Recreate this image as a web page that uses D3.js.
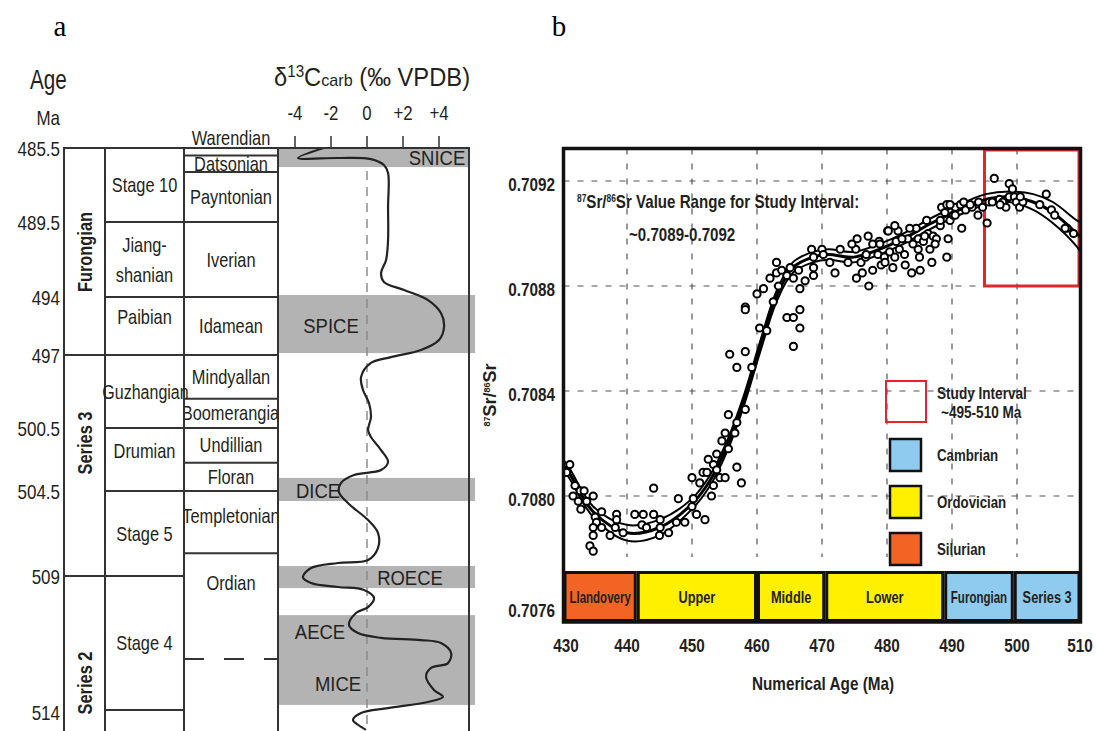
<!DOCTYPE html>
<html><head><meta charset="utf-8">
<script src="https://cdn.jsdelivr.net/npm/d3@7"></script>
<style>
body{margin:0;background:#fff;}
svg{display:block;}
text{font-family:'Liberation Sans',Arial,sans-serif;fill:#231f20;}
</style></head><body>
<svg id="c" width="1096" height="731"></svg>
<script>
// ---------------- Panel a data ----------------
const ageTicks = [485.5, 489.5, 494, 497, 500.5, 504.5, 509, 514];
const ageTickLabels = ["485.5", "489.5", "494", "497", "500.5", "504.5", "509", "514"];
const seriesNames = ["Furongian", "Series 3", "Series 2"];
const seriesStart = [485.5, 497, 509];
const seriesEnd = [497, 509, 515];
const stageNames = ["Stage 10", "Jiang-|shanian", "Paibian", "Guzhangian", "Drumian", "Stage 5", "Stage 4", ""];
const stageStart = [485.5, 489.5, 494, 497, 500.5, 504.5, 509, 514];
const stageEnd = [489.5, 494, 497, 500.5, 504.5, 509, 514, 515];
const ausNames = ["Warendian", "Datsonian", "Payntonian", "Iverian", "Idamean", "Mindyallan", "Boomerangian", "Undillian", "Floran", "Templetonian", "Ordian"];
const ausStart = [485.1, 485.9, 486.8, 489.5, 494, 497, 499.1, 500.5, 502.7, 504.5, 507.8];
const ausEnd = [485.9, 486.8, 489.5, 494, 497, 499.1, 500.5, 502.7, 504.5, 507.8, 515];
const ausDashedAge = [512.1];
const d13Ticks = [-4, -2, 0, 2, 4];
const d13TickLabels = ["-4", "-2", "0", "+2", "+4"];
const eventNames = ["SNICE", "SPICE", "DICE", "ROECE", "AECE", "MICE"];
const bandStart = [485.5, 493.88, 503.67, 508.47, 510.46];
const bandEnd = [486.53, 496.9, 505.03, 509.45, 513.81];
const d13Age = [485.5, 486.04, 486.04, 486.1, 486.42, 486.85, 488.69, 490.58, 491.78, 492.56, 493.1, 493.58, 494.16, 494.83, 495.55, 496.22, 496.74, 497.1, 497.38, 498.05, 498.68, 499.3, 499.97, 500.63, 501.07, 501.9, 502.66, 503.17, 503.48, 503.98, 504.55, 505.14, 506.04, 506.72, 507.52, 508.15, 508.31, 508.58, 509.04, 509.26, 509.41, 509.52, 509.82, 510.16, 510.38, 510.83, 511.13, 511.31, 511.39, 511.5, 511.87, 512.25, 512.43, 512.76, 513.25, 513.51, 513.7, 513.93, 514.11, 514.37, 514.55, 514.74];
const d13Val = [-2.4, -3.83, -1.6, 0.22, 0.94, 1.17, 1.17, 1.17, 1.06, 0.78, 0.94, 2.06, 3.39, 4.11, 4.28, 4.0, 3.0, 1.33, 0.22, -0.33, -0.22, 0.11, 0.22, 0.06, 0.22, 0.78, 1.17, 0.78, -0.72, -1.44, -1.56, -1.06, 0.06, 0.61, 0.61, 0.06, -1.61, -3.11, -3.56, -3.11, -1.61, -0.17, 0.39, 0.06, -0.61, -1.0, -0.5, 0.78, 3.0, 4.11, 4.67, 4.5, 3.56, 3.28, 3.72, 4.22, 3.39, 1.17, -0.33, -0.78, -0.5, -0.06];

// ---------------- Panel b data ----------------
const xTicksB = [430, 440, 450, 460, 470, 480, 490, 500, 510];
const yTicksB = [0.7076, 0.7080, 0.7084, 0.7088, 0.7092];
const periodNames = ["Llandovery", "Upper", "Middle", "Lower", "Furongian", "Series 3"];
const periodStart = [430, 441.5, 460, 470.5, 488.8, 499.5];
const periodEnd = [441.5, 460, 470.5, 488.8, 499.5, 510];
const periodSystem = ["Silurian", "Ordovician", "Ordovician", "Ordovician", "Cambrian", "Cambrian"];
const legendNames = ["Cambrian", "Ordovician", "Silurian"];
const studyInterval = [495, 510];
const studyRange = [0.7088, 0.7093];
const curveAges = [430, 430.8, 434.8, 440, 445, 450, 452.8, 455.4, 457.8, 460.5, 463, 465.5, 468.6, 471, 474.9, 481.7, 486.9, 492, 495.2, 498.8, 502.5, 505.5, 509.2, 510];
const curveMid = [0.70812, 0.70810, 0.70794, 0.70786, 0.70788, 0.70797, 0.70806, 0.70819, 0.70835, 0.70857, 0.70876, 0.70887, 0.70891, 0.70892, 0.70891, 0.70897, 0.70904, 0.70910, 0.70913, 0.70914, 0.70912, 0.70908, 0.70900, 0.70898];
const curveUpper = [0.70814, 0.70812, 0.70796, 0.70789, 0.70791, 0.70799, 0.70808, 0.70821, 0.70837, 0.70859, 0.70878, 0.70889, 0.70893, 0.70894, 0.70893, 0.70899, 0.70906, 0.70912, 0.70915, 0.70916, 0.70915, 0.70912, 0.70905, 0.70904];
const curveLower = [0.70810, 0.70808, 0.70792, 0.70783, 0.70785, 0.70795, 0.70804, 0.70817, 0.70833, 0.70855, 0.70874, 0.70885, 0.70889, 0.70890, 0.70889, 0.70895, 0.70902, 0.70908, 0.70911, 0.70912, 0.70909, 0.70904, 0.70895, 0.70892];
const srPoints = [
 [431.2,0.70812],[430.7,0.70809],[432.0,0.70804],[432.8,0.70802],[433.4,0.70802],[431.7,0.70800],[432.5,0.70798],[432.9,0.70795],
 [434.8,0.70800],[433.8,0.70798],[435.1,0.70792],[436.1,0.70794],[435.3,0.70790],[434.8,0.70788],[436.1,0.70788],[437.4,0.70785],
 [438.4,0.70793],[438.4,0.70791],[438.2,0.70788],[434.8,0.70785],[434.3,0.70781],[434.8,0.70779],[439.4,0.70786],[441.2,0.70793],
 [442.5,0.70793],[442.3,0.70789],[443.0,0.70788],[444.1,0.70793],[444.1,0.70803],[445.1,0.70791],[445.1,0.70788],[445.0,0.70785],
 [446.4,0.70786],[447.9,0.70799],[447.6,0.70790],[448.9,0.70790],[450.0,0.70807],[450.2,0.70799],[450.0,0.70796],[450.7,0.70793],
 [451.7,0.70809],[451.2,0.70805],[452.3,0.70809],[453.0,0.70800],[453.3,0.70804],[452.0,0.70791],[452.5,0.70814],[453.8,0.70816],
 [453.3,0.70812],[453.8,0.70810],[454.3,0.70807],[455.1,0.70807],[454.6,0.70821],[455.1,0.70824],[455.6,0.70818],[455.6,0.70831],
 [456.6,0.70824],[456.9,0.70828],[456.9,0.70811],[457.6,0.70805],[458.2,0.70833],[459.2,0.70849],[456.9,0.70849],[455.8,0.70854],
 [458.2,0.70855],[460.4,0.70864],[461.5,0.70863],[458.2,0.70872],[458.2,0.70871],[460.0,0.70877],[461.0,0.70879],[462.5,0.70874],
 [463.3,0.70880],[462.0,0.70883],[463.0,0.70885],[463.8,0.70886],[464.6,0.70884],[465.1,0.70887],[465.6,0.70883],[466.6,0.70879],
 [466.4,0.70886],[467.4,0.70882],[468.7,0.70884],[468.7,0.70887],[464.6,0.70868],[465.6,0.70868],[466.6,0.70871],[466.6,0.70864],
 [465.6,0.70857],[463.0,0.70889],[468.4,0.70894],[468.7,0.70891],[470.0,0.70894],[470.2,0.70892],[472.0,0.70885],
 [475.2,0.70894],[475.3,0.70883],[476.0,0.70889],[476.7,0.70891],[477.1,0.70899],[477.2,0.70880],[477.8,0.70896],[478.8,0.70897],
 [478.6,0.70892],[479.1,0.70888],[480.1,0.70901],[480.4,0.70893],[479.6,0.70891],[480.9,0.70887],[481.4,0.70897],[481.7,0.70901],
 [481.9,0.70894],[482.7,0.70892],[483.2,0.70898],[483.8,0.70885],[484.0,0.70896],[484.5,0.70902],[484.8,0.70898],[485.0,0.70891],
 [485.6,0.70897],[486.1,0.70905],[486.3,0.70900],[486.6,0.70894],[487.1,0.70899],[487.6,0.70898],[488.2,0.70903],[488.4,0.70910],
 [488.9,0.70908],[489.2,0.70911],[489.2,0.70891],[489.7,0.70905],[490.2,0.70907],[490.5,0.70910],[491.3,0.70911],[491.8,0.70912],
 [492.1,0.70909],[493.1,0.70910],[494.1,0.70912],[494.7,0.70910],
 [472.8,0.70894],[474.0,0.70889],[475.4,0.70898],[476.8,0.70892],[477.8,0.70886],[478.9,0.70896],[480.2,0.70901],[481.2,0.70891],
 [482.3,0.70898],[483.5,0.70902],[484.8,0.70894],[485.8,0.70899],[486.9,0.70889],[488.2,0.70905],[489.4,0.70898],[490.5,0.70907],
 [491.5,0.70902],[492.8,0.70911],[494.0,0.70907],[489.7,0.70911],[487.4,0.70896],[485.1,0.70886],[482.8,0.70888],[479.7,0.70889],
 [476.2,0.70885],[474.6,0.70896],[471.2,0.70889],[481.2,0.70903],
 [495.4,0.70904],[495.7,0.70912],[496.5,0.70921],[496.2,0.70912],[497.3,0.70913],[497.8,0.70912],[498.3,0.70910],[498.8,0.70919],
 [498.8,0.70914],[499.3,0.70917],[499.6,0.70914],[499.9,0.70912],[500.4,0.70910],[500.9,0.70912],[504.5,0.70915],[505.3,0.70909],
 [507.7,0.70902],[508.7,0.70900],[503.5,0.70911],[505.8,0.70907],[507.4,0.70902],[500.5,0.70914],[497.4,0.70911]
];

// ---------------- helpers ----------------
const svg = d3.select("#c");
const lineCol = "#333";
function T(g, x, y, s, o) {
  o = o || {};
  const sx = o.sx == null ? 0.85 : o.sx;
  const t = g.append("text")
    .attr("transform", `translate(${x},${y})${o.rot ? ` rotate(${o.rot})` : ""} scale(${sx},1)`)
    .attr("text-anchor", o.anchor || "start")
    .style("font-size", (o.size || 18) + "px")
    .style("font-weight", o.bold ? "bold" : "normal");
  if (s !== null) t.text(s);
  return t;
}

// panel letters
T(svg, 60, 36, "a", {anchor: "middle", size: 29, sx: 1}).style("font-family", "'Liberation Serif','Times New Roman',serif").style("fill", "#000");
T(svg, 559, 36, "b", {anchor: "middle", size: 29, sx: 1}).style("font-family", "'Liberation Serif','Times New Roman',serif").style("fill", "#000");

// ===== Panel a =====
const yA = d3.scaleLinear().domain(ageTicks).range([148, 222, 297, 355, 428, 491, 576, 710]);
const c0 = 64, c1 = 105, c2 = 184, c3 = 278, c4 = 469, aBottom = 731;
const xD = d3.scaleLinear().domain([-4, 4]).range([295, 439]);
const gA = svg.append("g");

gA.selectAll("rect.band").data(bandStart).join("rect")
  .attr("x", c3).attr("y", d => yA(d))
  .attr("width", (d, i) => (i === 0 ? c4 : 475) - c3)
  .attr("height", (d, i) => yA(bandEnd[i]) - yA(d))
  .attr("fill", "#b3b3b3");

gA.append("line").attr("x1", xD(0)).attr("x2", xD(0)).attr("y1", 171).attr("y2", aBottom)
  .attr("stroke", "#8c8c8c").attr("stroke-width", 1.5).attr("stroke-dasharray", "9,7");

const d13Line = d3.line().x(d => xD(d[1])).y(d => yA(d[0])).curve(d3.curveCatmullRom.alpha(0.5));
gA.append("path").datum(d13Age.map((a, i) => [a, d13Val[i]]))
  .attr("d", d13Line).attr("fill", "none").attr("stroke", "#222").attr("stroke-width", 2.2);

const evPos = [[437, 165], [331, 333], [318, 498], [410, 585], [320, 639], [338, 691]];
eventNames.forEach((n, i) => T(gA, evPos[i][0], evPos[i][1], n, {anchor: "middle", size: 21, sx: 0.88}));

function hl(x1, x2, y, dash) {
  gA.append("line").attr("x1", x1).attr("x2", x2).attr("y1", y).attr("y2", y)
    .attr("stroke", lineCol).attr("stroke-width", 2).attr("stroke-dasharray", dash || null);
}
function vl(x, y1, y2) {
  gA.append("line").attr("x1", x).attr("x2", x).attr("y1", y1).attr("y2", y2)
    .attr("stroke", lineCol).attr("stroke-width", 2);
}
hl(c0 - 1, c4 + 1, yA(485.5));
[c0, c1, c2, c3, c4].forEach(x => vl(x, yA(485.5), aBottom));
seriesStart.slice(1).forEach(a => hl(c0, c2, yA(a)));
stageStart.slice(1).forEach(a => hl(c1, c2, yA(a)));
ausStart.slice(1).forEach(a => hl(c2, c3, yA(a)));
ausDashedAge.forEach(a => hl(c2, c3, yA(a), "20,20"));

svg.append("clipPath").attr("id", "ausclip").append("rect").attr("x", c2 + 1).attr("y", 120).attr("width", c3 - c2 - 2).attr("height", 620);

const serCenters = [252, 443, 683];
seriesNames.forEach((n, i) => T(gA, (c0 + c1) / 2 + 7, serCenters[i], n, {anchor: "middle", size: 20, bold: true, rot: -90, sx: 0.82}));

stageNames.forEach((n, i) => {
  if (!n) return;
  const parts = n.split("|");
  let cy = (yA(stageStart[i]) + yA(stageEnd[i])) / 2;
  if (n === "Paibian" || n === "Drumian") cy -= 9;
  parts.forEach((p, k) => {
    T(gA, (c1 + c2) / 2 + (n === "Guzhangian" ? 1 : 0), cy + 7 + (k - (parts.length - 1) / 2) * 30, p,
      {anchor: "middle", size: 20, sx: n === "Guzhangian" ? 0.8 : 0.82});
  });
});
const gAus = gA.append("g").attr("clip-path", "url(#ausclip)");
ausNames.forEach((n, i) => {
  let cy = (yA(ausStart[i]) + yA(Math.min(ausEnd[i], 514.5))) / 2;
  if (n === "Warendian") cy = yA(485.5) - 10;
  if (n === "Ordian") cy = yA(ausStart[i]) + 30;
  if (n === "Templetonian") cy -= 6;
  T(n === "Warendian" ? gA : gAus, (c2 + c3) / 2 + (n === "Boomerangian" ? 4 : 0), cy + 7, n,
    {anchor: "middle", size: 20, sx: 0.82});
});

T(gA, 30, 89, "Age", {size: 28, sx: 0.74});
T(gA, 60, 125, "Ma", {anchor: "end", size: 20, sx: 0.85});
ageTicks.forEach((a, i) => T(gA, 60, yA(a) + 8 + (i === ageTicks.length - 1 ? 2 : 0), ageTickLabels[i], {anchor: "end", size: 20, sx: 0.85}));

d13Ticks.forEach((v, i) => {
  gA.append("line").attr("x1", xD(v)).attr("x2", xD(v)).attr("y1", 136).attr("y2", 148)
    .attr("stroke", lineCol).attr("stroke-width", 1.5);
  T(gA, xD(v), 120, d13TickLabels[i], {anchor: "middle", size: 21, sx: 0.8});
});
const ttl = T(gA, 372, 86, null, {anchor: "middle", size: 25, sx: 0.95});
ttl.append("tspan").text("δ");
ttl.append("tspan").attr("dy", -9).style("font-size", "16px").text("13");
ttl.append("tspan").attr("dy", 9).text("C");
ttl.append("tspan").style("font-size", "17px").text("carb");
ttl.append("tspan").text(" (‰ VPDB)");

// ===== Panel b =====
const xB = d3.scaleLinear().domain([430, 510]).range([562, 1082]);
const yB = d3.scaleLinear().domain([0.7080, 0.7092]).range([496, 181]);
const fL = 563.5, fR = 1080.5, fT = 148.5, fB = 622, barT = 571;
const gB = svg.append("g");
gB.append("rect").attr("x", fL).attr("y", fT).attr("width", fR - fL).attr("height", fB - fT).attr("fill", "#fff");

gB.selectAll("line.vg").data(xTicksB.slice(1, -1)).join("line")
  .attr("x1", d => xB(d)).attr("x2", d => xB(d)).attr("y1", fT).attr("y2", barT - 14)
  .attr("stroke", "#555").attr("stroke-width", 1.2).attr("stroke-dasharray", "6,9");
gB.selectAll("line.hg").data(yTicksB.slice(1)).join("line")
  .attr("x1", fL).attr("x2", fR).attr("y1", d => yB(d)).attr("y2", d => yB(d))
  .attr("stroke", "#555").attr("stroke-width", 1.2).attr("stroke-dasharray", "6,8");

svg.append("clipPath").attr("id", "bclip").append("rect").attr("x", fL).attr("y", fT).attr("width", fR - fL).attr("height", fB - fT);
gB.append("rect").attr("x", xB(studyInterval[0])).attr("y", fT + 1.5)
  .attr("width", fR - 1.5 - xB(studyInterval[0])).attr("height", yB(studyRange[0]) - fT - 1.5)
  .attr("fill", "none").attr("stroke", "#e3262b").attr("stroke-width", 3);

const gC = gB.append("g").attr("clip-path", "url(#bclip)");
const srLine = d3.line().x(d => xB(d[0])).y(d => yB(d[1])).curve(d3.curveCatmullRom.alpha(0.5));
[curveUpper, curveLower, curveMid].forEach((arr, k) => {
  gC.append("path").datum(curveAges.map((a, i) => [a, arr[i]])).attr("d", srLine)
    .attr("fill", "none").attr("stroke", "#000").attr("stroke-width", k === 2 ? 3 : 2);
});
gC.selectAll("circle.pt").data(srPoints).join("circle")
  .attr("cx", d => xB(d[0])).attr("cy", d => yB(d[1])).attr("r", 3.6)
  .attr("fill", "#fff").attr("stroke", "#000").attr("stroke-width", 2);

const t1 = T(gB, 577, 208, null, {size: 18, bold: true, sx: 0.84});
t1.append("tspan").attr("dy", -6).style("font-size", "10px").text("87");
t1.append("tspan").attr("dy", 6).text("Sr/");
t1.append("tspan").attr("dy", -6).style("font-size", "10px").text("86");
t1.append("tspan").attr("dy", 6).text("Sr Value Range for Study Interval:");
T(gB, 629, 241, "~0.7089-0.7092", {size: 18, bold: true, sx: 0.84});

gB.append("rect").attr("x", 886).attr("y", 381).attr("width", 40).attr("height", 41)
  .attr("fill", "none").attr("stroke", "#e3262b").attr("stroke-width", 2);
T(gB, 937, 399, "Study Interval", {size: 16, bold: true, sx: 0.85});
T(gB, 941, 418, "~495-510 Ma", {size: 16, bold: true, sx: 0.85});
const sysColor = {Cambrian: "#8ecbee", Ordovician: "#fff000", Silurian: "#f26424"};
legendNames.forEach((n, i) => {
  const y0 = 439 + i * 47;
  gB.append("rect").attr("x", 890).attr("y", y0).attr("width", 31).attr("height", 32)
    .attr("fill", sysColor[n]).attr("stroke", "#111").attr("stroke-width", 2.5);
  T(gB, 937, y0 + 22, n, {size: 17, bold: true, sx: 0.78});
});

periodNames.forEach((n, i) => {
  const x0 = Math.max(xB(periodStart[i]), fL), x1 = Math.min(xB(periodEnd[i]), fR);
  gB.append("rect").attr("x", x0 + 1.5).attr("y", barT + 1.5).attr("width", x1 - x0 - 3).attr("height", fB - barT - 3)
    .attr("fill", sysColor[periodSystem[i]]).attr("stroke", "#111").attr("stroke-width", 3);
  T(gB, (x0 + x1) / 2, 603, n, {anchor: "middle", size: 16, bold: true, sx: (n === "Llandovery" || n === "Furongian") ? 0.72 : 0.8});
});

gB.append("rect").attr("x", fL).attr("y", fT).attr("width", fR - fL).attr("height", fB - fT)
  .attr("fill", "none").attr("stroke", "#111").attr("stroke-width", 3.5);

xTicksB.forEach(v => T(gB, xB(v) + (v === 430 ? 4 : v === 510 ? -2 : 0), 652, String(v), {anchor: "middle", size: 18, bold: true, sx: 0.85}));
yTicksB.forEach(v => T(gB, 555, yB(v) + 7 + (v === 0.7076 ? 9 : 3), v.toFixed(4), {anchor: "end", size: 18, bold: true, sx: 0.85}));
T(gB, 823, 690, "Numerical Age (Ma)", {anchor: "middle", size: 18, bold: true, sx: 0.85});
const yt = T(gB, 496, 395, null, {anchor: "middle", size: 18, bold: true, rot: -90, sx: 1});
yt.append("tspan").attr("dy", -6).style("font-size", "9px").text("87");
yt.append("tspan").attr("dy", 6).text("Sr/");
yt.append("tspan").attr("dy", -6).style("font-size", "9px").text("86");
yt.append("tspan").attr("dy", 6).text("Sr");
</script>
</body></html>
